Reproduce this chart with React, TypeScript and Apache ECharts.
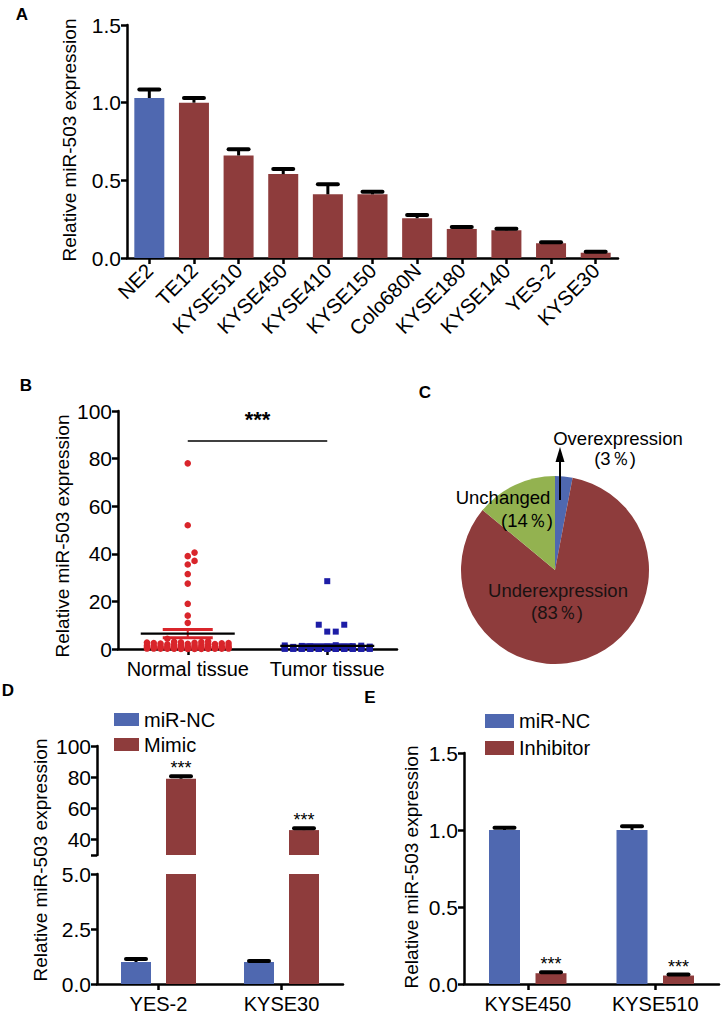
import React, { useEffect, useRef } from 'react';
import * as echarts from 'echarts';

// ---------- DATA ----------
const catsA = ['NE2', 'TE12', 'KYSE510', 'KYSE450', 'KYSE410', 'KYSE150', 'Colo680N', 'KYSE180', 'KYSE140', 'YES-2', 'KYSE30'];
const valsA = [1.03, 1.0, 0.66, 0.54, 0.41, 0.41, 0.256, 0.187, 0.178, 0.095, 0.034];
const errsA = [0.055, 0.03, 0.04, 0.033, 0.065, 0.017, 0.021, 0.013, 0.011, 0.006, 0.006];
const controlA = 'NE2';

const groupsB = ['Normal tissue', 'Tumor tissue'];
const normalB = [78, 52, 40.5, 39, 37, 35.5, 31.5, 27.5, 19, 14, 11,
  4.3, 3.2, 3.0, 2.9, 2.8, 2.7, 2.6, 2.5, 2.5, 2.4, 2.3, 2.2, 2.1, 2.0, 1.9, 1.8, 1.7, 1.6, 1.5, 1.5,
  1.4, 1.3, 1.2, 1.2, 1.1, 1.0, 1.0, 0.9, 0.9, 0.8, 0.8, 0.7, 0.7, 0.6, 0.6, 0.5, 0.5, 0.5, 0.4, 0.4,
  0.4, 0.3, 0.3, 0.3, 0.3, 0.2, 0.2, 0.2, 0.2, 0.15, 0.15, 0.1, 0.1, 0.1, 0.1, 0.08, 0.05, 0.05, 0.03];
const tumorB = [28.5, 10.2, 10.2, 7.3, 7.3,
  1.6, 1.5, 1.4, 1.3, 1.2, 1.1, 1.0, 1.0, 0.9, 0.9, 0.8, 0.8, 0.7, 0.7, 0.7, 0.6, 0.6, 0.6, 0.5, 0.5,
  0.7, 0.7, 0.7, 0.6, 0.6, 0.6, 0.5, 0.5, 0.5, 0.5, 0.4, 0.4, 0.4, 0.4, 0.35, 0.3, 0.3, 0.3, 0.3, 0.25,
  0.2, 0.2, 0.2, 0.2, 0.2, 0.15, 0.15, 0.15, 0.1, 0.1, 0.1, 0.1, 0.1, 0.08, 0.08, 0.06, 0.06, 0.05, 0.05,
  0.04, 0.03, 0.03, 0.02, 0.02, 0.01];
const sigB = '***';
const sigBLevel = 87.5;

const pieNames = ['Overexpression', 'Underexpression', 'Unchanged'];
const pieValues = [3, 83, 14];

const catsD = ['YES-2', 'KYSE30'];
const ncD = [1.0, 1.0];
const ncDErr = [0.14, 0.05];
const mimicD = [79, 46];
const mimicDErr = [1.6, 1.2];
const sigD = ['***', '***'];
const ticksDUpper = [40, 60, 80, 100];

const catsE = ['KYSE450', 'KYSE510'];
const ncE = [1.0, 1.0];
const ncEErr = [0.015, 0.025];
const inhE = [0.07, 0.055];
const inhEErr = [0.007, 0.006];
const sigE = ['***', '***'];

const yTitle = 'Relative miR-503 expression';

// ---------- STYLE ----------
const FONT = 'Liberation Sans, Arial, Helvetica, sans-serif';
const BLUE = '#4f68b0';
const RED = '#8e3c3c';
const GREEN = '#93b250';
const DOT_RED = '#d9252b';
const DOT_BLUE = '#1d1da6';

function swarm(values: number[], pxPerUnit: number, dot: number, maxHalf: number) {
  const idx = values.map((_, i) => i).sort((a, b) => values[a] - values[b]);
  const placed: { x: number; y: number }[] = [];
  const off = new Array(values.length).fill(0);
  const nSlots = Math.floor(maxHalf / dot);
  const cands: number[] = [0];
  for (let k = 1; k <= nSlots; k++) cands.push(k * dot, -k * dot);
  for (const i of idx) {
    const y = values[i] * pxPerUnit;
    let best = 0, bestD = -1;
    for (const c of cands) {
      let d = Infinity;
      for (const p of placed) {
        const dd = Math.hypot(p.x - c, p.y - y);
        if (dd < d) d = dd;
      }
      if (d >= dot * 0.95) { best = c; break; }
      if (d > bestD) { bestD = d; best = c; }
    }
    placed.push({ x: best, y });
    off[i] = best;
  }
  return off;
}

function stats(a: number[]) {
  const n = a.length;
  const m = a.reduce((s, v) => s + v, 0) / n;
  const sd = Math.sqrt(a.reduce((s, v) => s + (v - m) * (v - m), 0) / (n - 1));
  return [m, sd / Math.sqrt(n)];
}

function errRender(offsetPx: number, capHalf: number, stars?: string[]) {
  return (params: any, api: any) => {
    const cat = api.value(0), v = api.value(1), e = api.value(2);
    const p0 = api.coord([cat, v]);
    const p1 = api.coord([cat, v + e]);
    const x = p0[0] + offsetPx;
    const children: any[] = [
      { type: 'line', shape: { x1: x, y1: p0[1], x2: x, y2: p1[1] }, style: { stroke: '#000', lineWidth: 3 } },
      { type: 'line', shape: { x1: x - capHalf, y1: p1[1], x2: x + capHalf, y2: p1[1] }, style: { stroke: '#000', lineWidth: 4, lineCap: 'round' } },
    ];
    if (stars && stars[params.dataIndex]) {
      children.push({ type: 'text', x, y: p1[1] + 1, style: { text: stars[params.dataIndex], align: 'center', verticalAlign: 'bottom', fontSize: 18, fill: '#000', fontFamily: FONT } });
    }
    return { type: 'group', children };
  };
}

const axisLineS = { show: true, lineStyle: { color: '#000', width: 2.5 } };
const tickS = { show: true, length: 6, lineStyle: { color: '#000', width: 2.5 } };
const ylabS = { color: '#000', fontSize: 21, fontFamily: FONT, margin: 6 };
const xlabS = { color: '#000', fontSize: 20, fontFamily: FONT, margin: 10, interval: 0 };

export default function App() {
  const ref = useRef<HTMLDivElement>(null);
  useEffect(() => {
    if (!ref.current) return;
    const chart = echarts.init(ref.current, undefined, { renderer: 'svg' });

    const offN = swarm(normalB, 2.38, 6.8, 44);
    const offT = swarm(tumorB, 2.38, 8.5, 44);
    const [mN, sN] = stats(normalB);
    const [mT, sT] = stats(tumorB);

    const pieColors = [BLUE, RED, GREEN];
    const pctText = (i: number) => '(' + pieValues[i] + '％)';

    const yTitleG = (x: number, y: number) => ({
      type: 'text', x, y, rotation: Math.PI / 2, z: 100,
      style: { text: yTitle, fontSize: 19, fontFamily: FONT, fill: '#000', align: 'center', verticalAlign: 'middle' },
    });
    const letter = (t: string, x: number, y: number) => ({
      type: 'text', x, y, z: 100, style: { text: t, fontSize: 17, fontWeight: 'bold', fontFamily: FONT, fill: '#000', align: 'center', verticalAlign: 'middle' },
    });
    const pieLabel = (t: string, x: number, y: number, fill = '#000') => ({
      type: 'text', x, y, z: 100, style: { text: t, fontSize: 18.5, fontFamily: FONT, fill, align: 'center', verticalAlign: 'middle' },
    });

    const option: any = {
      animation: false,
      backgroundColor: '#fff',
      textStyle: { fontFamily: FONT },
      grid: [
        { left: 127, top: 25, width: 491, height: 233 },
        { left: 118, top: 411, width: 279, height: 238 },
        { left: 97, top: 746, width: 246, height: 109 },
        { left: 97, top: 874, width: 246, height: 110 },
        { left: 464, top: 753, width: 255, height: 231 },
      ],
      legend: [
        {
          data: ['miR-NC', 'Mimic'], orient: 'vertical', left: 114, top: 709.5, itemWidth: 25, itemHeight: 13, itemGap: 5,
          padding: 0, icon: 'rect', selectedMode: false, textStyle: { fontSize: 20, color: '#000', lineHeight: 20, fontFamily: FONT },
        },
        {
          data: ['miR-NC', 'Inhibitor'], orient: 'vertical', left: 485, top: 711, itemWidth: 29, itemHeight: 14, itemGap: 7,
          padding: 0, icon: 'rect', selectedMode: false, textStyle: { fontSize: 20, color: '#000', lineHeight: 20, fontFamily: FONT },
        },
      ],
      xAxis: [
        {
          gridIndex: 0, type: 'category', data: catsA, axisLine: axisLineS, axisTick: { ...tickS, alignWithLabel: true },
          axisLabel: { color: '#000', fontSize: 20.5, fontFamily: FONT, rotate: 45, interval: 0, margin: 9 }, splitLine: { show: false },
        },
        {
          gridIndex: 1, type: 'category', data: groupsB, axisLine: axisLineS, axisTick: { ...tickS, alignWithLabel: true },
          axisLabel: xlabS, splitLine: { show: false },
        },
        { gridIndex: 2, type: 'category', data: catsD, show: false },
        {
          gridIndex: 3, type: 'category', data: catsD, axisLine: axisLineS, axisTick: { ...tickS, alignWithLabel: true },
          axisLabel: xlabS, splitLine: { show: false },
        },
        {
          gridIndex: 4, type: 'category', data: catsE, axisLine: axisLineS, axisTick: { ...tickS, alignWithLabel: true },
          axisLabel: xlabS, splitLine: { show: false },
        },
      ],
      yAxis: [
        {
          gridIndex: 0, type: 'value', min: 0, max: 1.5, interval: 0.5, axisLine: axisLineS, axisTick: tickS,
          axisLabel: { ...ylabS, formatter: (v: number) => v.toFixed(1) }, splitLine: { show: false },
        },
        {
          gridIndex: 1, type: 'value', min: 0, max: 100, interval: 20, axisLine: axisLineS, axisTick: tickS,
          axisLabel: ylabS, splitLine: { show: false },
        },
        {
          gridIndex: 2, type: 'value', min: 30, max: 100, axisLine: axisLineS,
          axisTick: { ...tickS, customValues: [30, ...ticksDUpper] },
          axisLabel: { ...ylabS, customValues: ticksDUpper }, splitLine: { show: false },
        },
        {
          gridIndex: 3, type: 'value', min: 0, max: 5, interval: 2.5, axisLine: axisLineS, axisTick: tickS,
          axisLabel: { ...ylabS, formatter: (v: number) => v.toFixed(1) }, splitLine: { show: false },
        },
        {
          gridIndex: 4, type: 'value', min: 0, max: 1.5, interval: 0.5, axisLine: axisLineS, axisTick: tickS,
          axisLabel: { ...ylabS, formatter: (v: number) => v.toFixed(1) }, splitLine: { show: false },
        },
      ],
      series: [
        // ----- A -----
        {
          type: 'bar', name: 'A', xAxisIndex: 0, yAxisIndex: 0, barWidth: 30,
          data: valsA.map((v, i) => ({ value: v, itemStyle: { color: catsA[i] === controlA ? BLUE : RED } })),
        },
        {
          type: 'custom', name: 'errA', xAxisIndex: 0, yAxisIndex: 0, z: 5,
          renderItem: errRender(0, 10), data: valsA.map((v, i) => [i, v, errsA[i]]),
        },
        // ----- B -----
        {
          type: 'custom', name: 'normalPts', xAxisIndex: 1, yAxisIndex: 1, z: 3,
          renderItem: (params: any, api: any) => {
            const c = api.coord([api.value(0), api.value(1)]);
            return { type: 'circle', shape: { cx: c[0] + api.value(2), cy: c[1], r: 3.3 }, style: { fill: DOT_RED } };
          },
          data: normalB.map((v, i) => [0, v, offN[i]]),
        },
        {
          type: 'custom', name: 'tumorPts', xAxisIndex: 1, yAxisIndex: 1, z: 3,
          renderItem: (params: any, api: any) => {
            const c = api.coord([api.value(0), api.value(1)]);
            return { type: 'rect', shape: { x: c[0] + api.value(2) - 3, y: c[1] - 3, width: 6, height: 6 }, style: { fill: DOT_BLUE } };
          },
          data: tumorB.map((v, i) => [1, v, offT[i]]),
        },
        {
          type: 'custom', name: 'meanB', xAxisIndex: 1, yAxisIndex: 1, z: 6,
          renderItem: (params: any, api: any) => {
            const cat = api.value(0), m = api.value(1), s = api.value(2);
            const c = api.coord([cat, m]);
            const cu = api.coord([cat, m + s]);
            const cl = api.coord([cat, m - s]);
            const col = cat === 0 ? DOT_RED : DOT_BLUE;
            return {
              type: 'group', children: [
                { type: 'line', shape: { x1: c[0] - 25, y1: cu[1], x2: c[0] + 25, y2: cu[1] }, style: { stroke: col, lineWidth: 3 } },
                { type: 'line', shape: { x1: c[0] - 25, y1: cl[1], x2: c[0] + 25, y2: cl[1] }, style: { stroke: col, lineWidth: 3 } },
                { type: 'line', shape: { x1: c[0], y1: cu[1], x2: c[0], y2: cl[1] }, style: { stroke: col, lineWidth: 2 } },
                { type: 'line', shape: { x1: c[0] - 47, y1: c[1], x2: c[0] + 47, y2: c[1] }, style: { stroke: '#000', lineWidth: 2.2 } },
              ],
            };
          },
          data: [[0, mN, sN], [1, mT, sT]],
          markLine: {
            silent: true, symbol: 'none', animation: false,
            lineStyle: { color: '#000', width: 1.5, type: 'solid' },
            label: { show: true, position: 'middle', formatter: sigB, fontSize: 22, fontWeight: 'bold', color: '#000', distance: 10 },
            data: [[{ coord: [0, sigBLevel] }, { coord: [1, sigBLevel] }]],
          },
        },
        // ----- C -----
        {
          type: 'pie', center: [555, 570], radius: 94, startAngle: 90, clockwise: true, silent: true, z: 1,
          label: { show: false }, labelLine: { show: false },
          data: pieNames.map((n, i) => ({ name: n, value: pieValues[i], itemStyle: { color: pieColors[i] } })),
        },
        // ----- D -----
        { type: 'bar', name: 'miR-NC', xAxisIndex: 3, yAxisIndex: 3, barWidth: 30, barGap: '50%', itemStyle: { color: BLUE }, data: ncD },
        { type: 'bar', name: 'Mimic', xAxisIndex: 3, yAxisIndex: 3, barWidth: 30, barGap: '50%', itemStyle: { color: RED }, data: mimicD },
        { type: 'bar', name: 'miR-NC', xAxisIndex: 2, yAxisIndex: 2, barWidth: 30, barGap: '50%', itemStyle: { color: BLUE }, data: ncD },
        { type: 'bar', name: 'Mimic', xAxisIndex: 2, yAxisIndex: 2, barWidth: 30, barGap: '50%', itemStyle: { color: RED }, data: mimicD },
        {
          type: 'custom', name: 'errNCD', xAxisIndex: 3, yAxisIndex: 3, z: 5,
          renderItem: errRender(-22.5, 10), data: ncD.map((v, i) => [i, v, ncDErr[i]]),
        },
        {
          type: 'custom', name: 'errMimicD', xAxisIndex: 2, yAxisIndex: 2, z: 5,
          renderItem: errRender(22.5, 10, sigD), data: mimicD.map((v, i) => [i, v, mimicDErr[i]]),
        },
        // ----- E -----
        { type: 'bar', name: 'miR-NC', xAxisIndex: 4, yAxisIndex: 4, barWidth: 31, barGap: '50%', itemStyle: { color: BLUE }, data: ncE },
        { type: 'bar', name: 'Inhibitor', xAxisIndex: 4, yAxisIndex: 4, barWidth: 31, barGap: '50%', itemStyle: { color: RED }, data: inhE },
        {
          type: 'custom', name: 'errNCE', xAxisIndex: 4, yAxisIndex: 4, z: 5,
          renderItem: errRender(-23.25, 10), data: ncE.map((v, i) => [i, v, ncEErr[i]]),
        },
        {
          type: 'custom', name: 'errInhE', xAxisIndex: 4, yAxisIndex: 4, z: 5,
          renderItem: errRender(23.25, 10, sigE), data: inhE.map((v, i) => [i, v, inhEErr[i]]),
        },
      ],
      graphic: {
        elements: [
          letter('A', 22, 14),
          letter('B', 26, 385),
          letter('C', 425, 392),
          letter('D', 8, 690),
          letter('E', 370, 697),
          yTitleG(69, 140),
          yTitleG(62, 536),
          yTitleG(40, 860),
          yTitleG(411, 867),
          pieLabel(pieNames[0], 618, 438),
          pieLabel(pctText(0), 615, 458),
          pieLabel(pieNames[2], 503, 497),
          pieLabel(pctText(2), 527, 520),
          pieLabel(pieNames[1], 558, 590, '#1a1212'),
          pieLabel(pctText(1), 557, 612, '#1a1212'),
          { type: 'line', z: 100, shape: { x1: 560, y1: 500, x2: 560, y2: 458 }, style: { stroke: '#000', lineWidth: 2 } },
          { type: 'polygon', z: 100, shape: { points: [[555.5, 462], [564.5, 462], [560, 447]] }, style: { fill: '#000' } },
        ],
      },
    };
    chart.setOption(option);
    return () => chart.dispose();
  }, []);
  return <div ref={ref} style={{ position: 'absolute', left: 0, top: 0, width: 721, height: 1017, background: '#fff' }} />;
}
